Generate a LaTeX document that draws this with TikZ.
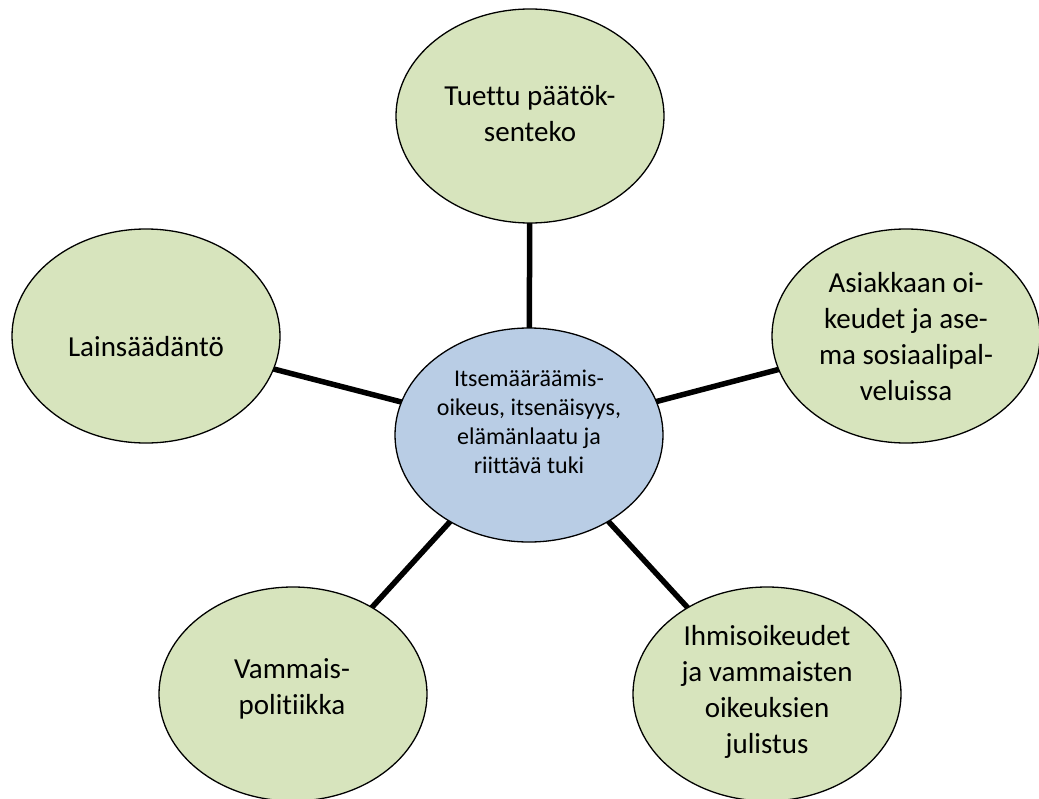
\documentclass[tikz,border=0pt]{standalone}
\usepackage{fontspec}
\setmainfont{Carlito}[Ligatures={NoCommon}]
\usetikzlibrary{shapes.geometric,backgrounds}
\definecolor{leafgreen}{HTML}{D7E4BD}
\definecolor{hubblue}{HTML}{B9CDE5}
\tikzset{
  bubble/.style={ellipse, draw=black, line width=1.3pt, fill=leafgreen,
    minimum width=268pt, minimum height=214pt, inner sep=0pt},
  hub/.style={bubble, fill=hubblue},
  conn/.style={draw=black, line width=5.5pt},
  leaftext/.style={align=center, font=\fontsize{29}{36}\selectfont, inner sep=0pt},
  hubtext/.style={align=center, font=\fontsize{24}{29}\selectfont, inner sep=0pt}
}
\begin{document}
\begin{tikzpicture}[x=1pt,y=-1pt]
\useasboundingbox (0,0) rectangle (1039,798);
\node[hub] (ctr) at (529,435) {};
\node[bubble] (top) at (530,116) {};
\node[bubble] (lft) at (146,336) {};
\node[bubble] (rgt) at (906,336) {};
\node[bubble] (bl) at (293,694) {};
\node[bubble] (br) at (767,694) {};
\begin{scope}[on background layer]
\draw[conn] (ctr.center) -- (top.center);
\draw[conn] (ctr.center) -- (lft.center);
\draw[conn] (ctr.center) -- (rgt.center);
\draw[conn] (ctr.center) -- (bl.center);
\draw[conn] (ctr.center) -- (br.center);
\end{scope}
\node[hubtext] (ctrT) at (529,422) {Itsemääräämis-\\oikeus, itsenäisyys,\\elämänlaatu ja\\riittävä tuki};
\node[leaftext] (topT) at (530,114) {Tuettu päätök-\\senteko};
\node[leaftext] (lftT) at (146,347) {Lainsäädäntö};
\node[leaftext] (rgtT) at (906,337) {Asiakkaan oi-\\keudet ja ase-\\ma sosiaalipal-\\veluissa};
\node[leaftext] (blT) at (292,689) {Vammais-\\politiikka};
\node[leaftext] (brT) at (767,692) {Ihmisoikeudet\\ja vammaisten\\oikeuksien\\julistus};
\end{tikzpicture}
\end{document}
